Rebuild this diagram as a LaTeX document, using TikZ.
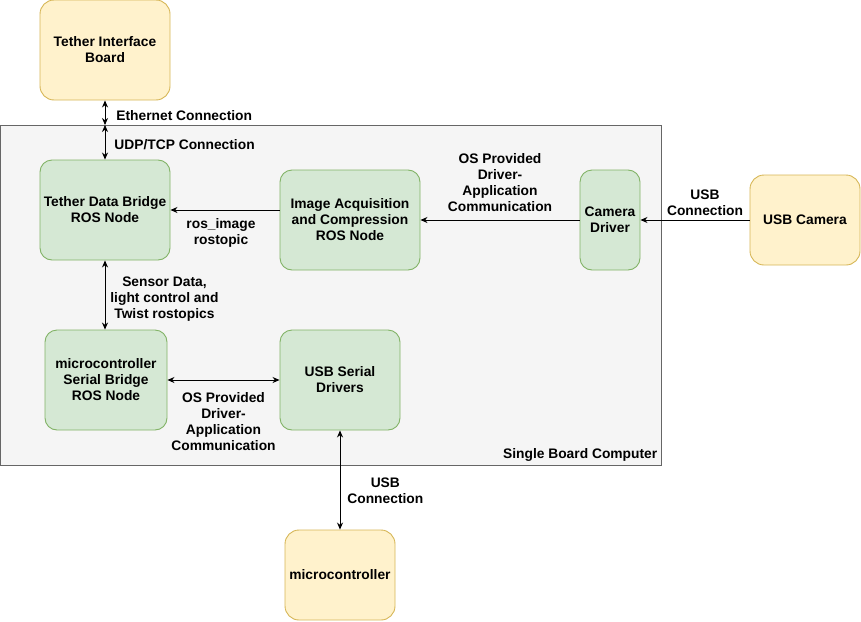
\documentclass[tikz,border=0pt]{standalone}
\usepackage{fontspec}
\setmainfont{Liberation Sans}
\usepackage{xcolor}
\usetikzlibrary{arrows.meta}

\definecolor{hwfill}{HTML}{FFF2CC}
\definecolor{hwline}{HTML}{D6B656}
\definecolor{swfill}{HTML}{D5E8D4}
\definecolor{swline}{HTML}{82B366}
\definecolor{sbcfill}{HTML}{F5F5F5}
\definecolor{sbcline}{HTML}{666666}

\tikzset{
  hwbox/.style={draw=hwline, fill=hwfill, line width=0.9pt, rounded corners=14pt, align=center},
  swbox/.style={draw=swline, fill=swfill, line width=0.9pt, rounded corners=12pt, align=center},
  lbl/.style={align=center, inner sep=1pt},
  link/.style={{Stealth[length=7pt,width=6pt]}-{Stealth[length=7pt,width=6pt]}, line width=0.8pt},
  feed/.style={-{Stealth[length=7pt,width=6pt]}, line width=0.8pt}
}

\begin{document}
\begin{tikzpicture}[x=1pt, y=-1pt, font=\fontsize{13.8}{16}\selectfont\bfseries]
	\useasboundingbox (0,0) rectangle (861,621);
	\node[draw=sbcline, fill=sbcfill, line width=0.8pt, minimum width=661pt, minimum height=340pt, inner sep=0pt] at (330.5,295) (sbc) {};
	\node[anchor=south east, inner sep=4pt] at (sbc.south east) (sbclbl) {Single Board Computer};
	\coordinate (eth) at (105,125);
	\node[hwbox, minimum width=130pt, minimum height=100pt] at (105,50) (tib) {Tether Interface\\Board};
	\node[swbox, minimum width=130pt, minimum height=100pt, inner sep=0pt] at (105,210) (tdb) {Tether Data Bridge\\ROS Node};
	\node[swbox, minimum width=140pt, minimum height=100pt, inner sep=0pt] at (350,220) (iac) {Image Acquisition\\and Compression\\ROS Node};
	\node[swbox, minimum width=60pt, minimum height=100pt, inner sep=0pt] at (610,220) (camdrv) {Camera\\Driver};
	\node[hwbox, minimum width=110pt, minimum height=90pt] at (805,220) (usbcam) {USB Camera};
	\node[swbox, minimum width=122pt, minimum height=100pt, inner sep=0pt] at (106,380) (mcb) {microcontroller\\Serial Bridge\\ROS Node};
	\node[swbox, minimum width=120pt, minimum height=100pt] at (340,380) (usbser) {USB Serial\\Drivers};
	\node[hwbox, minimum width=110pt, minimum height=90pt, inner sep=0pt] at (340,575) (mcu) {microcontroller};
	\draw [link] (tib.south) -- (eth) node[midway,right=10pt,lbl,yshift=-3pt] {Ethernet Connection};
	\draw [link] (eth) -- (tdb.north) node[midway,right=8pt,lbl,yshift=-2pt] {UDP/TCP Connection};
	\draw [feed] (iac.west |- tdb.east) -- (tdb.east) node[midway,below=7pt,lbl,xshift=-4pt] {ros\_image\\rostopic};
	\draw [feed] (camdrv.west) -- (iac.east) node[midway,above=7pt,lbl] {OS Provided\\Driver-\\Application\\Communication};
	\draw [feed] (usbcam.west) -- (camdrv.east) node[midway,above=3pt,lbl,xshift=10pt] {USB\\Connection};
	\draw [link] (tdb.south) -- (mcb.north -| tdb.south) node[midway,right=4pt,lbl,yshift=-4pt] {Sensor Data,\\light control and\\Twist rostopics};
	\draw [link] (mcb.east) -- (usbser.west) node[midway,below=11pt,lbl] {OS Provided\\Driver-\\Application\\Communication};
	\draw [link] (usbser.south) -- (mcu.north) node[midway,right=6pt,lbl,yshift=-11pt] {USB\\Connection};
\end{tikzpicture}
\end{document}
